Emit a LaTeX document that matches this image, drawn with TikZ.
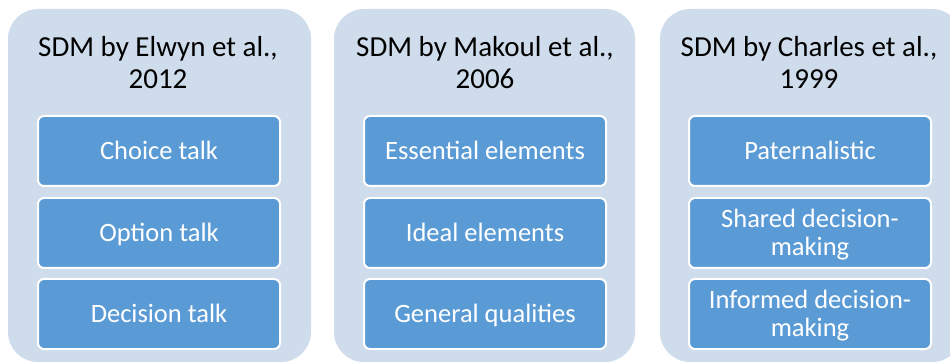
\documentclass[tikz,border=0pt]{standalone}
\usepackage{fontspec}
\setmainfont{Carlito}
\definecolor{panelfill}{HTML}{CFDCEC}
\definecolor{boxfill}{HTML}{5B9BD5}
\begin{document}
\begin{tikzpicture}[x=1pt,y=-1pt,
  panel/.style={fill=panelfill, rounded corners=30pt},
  title/.style={font=\fontsize{29}{32}\selectfont, align=center,
    text height=50.3pt, text depth=0pt, inner sep=0pt, text=black},
  itembox/.style={draw=white, line width=2pt, fill=boxfill, rounded corners=6pt,
    minimum width=242pt, minimum height=70pt, inner sep=0pt,
    font=\fontsize{26.5}{28}\selectfont, text=white, align=center,
    text height=16.7pt, text depth=0pt},
  twoline/.style={text height=44.7pt}
]
\clip (0,0) rectangle (950,363);
\fill[white] (0,0) rectangle (950,363);

% three column panels
\fill[panel] (8,9) rectangle (311,362);
\fill[panel] (334,9) rectangle (635,362);
\fill[panel] (660,9) rectangle (962,362);

% column headings
\node[title] (t1) at (158,62.9) {SDM by Elwyn et al.,\\2012};
\node[title] (t2) at (485,62.9) {SDM by Makoul et al.,\\2006};
\node[title] (t3) at (809,62.9) {SDM by Charles et al.,\\1999};

% Elwyn et al.
\node[itembox] (a1) at (159,151) {Choice talk};
\node[itembox] (a2) at (159,233) {Option talk};
\node[itembox] (a3) at (159,314) {Decision talk};

% Makoul et al.
\node[itembox] (b1) at (485,151) {Essential elements};
\node[itembox] (b2) at (485,233) {Ideal elements};
\node[itembox] (b3) at (485,314) {General qualities};

% Charles et al.
\node[itembox] (c1) at (810,151) {Paternalistic};
\node[itembox, twoline] (c2) at (810,233) {Shared decision-\\making};
\node[itembox, twoline] (c3) at (810,314) {Informed decision-\\making};
\end{tikzpicture}
\end{document}
